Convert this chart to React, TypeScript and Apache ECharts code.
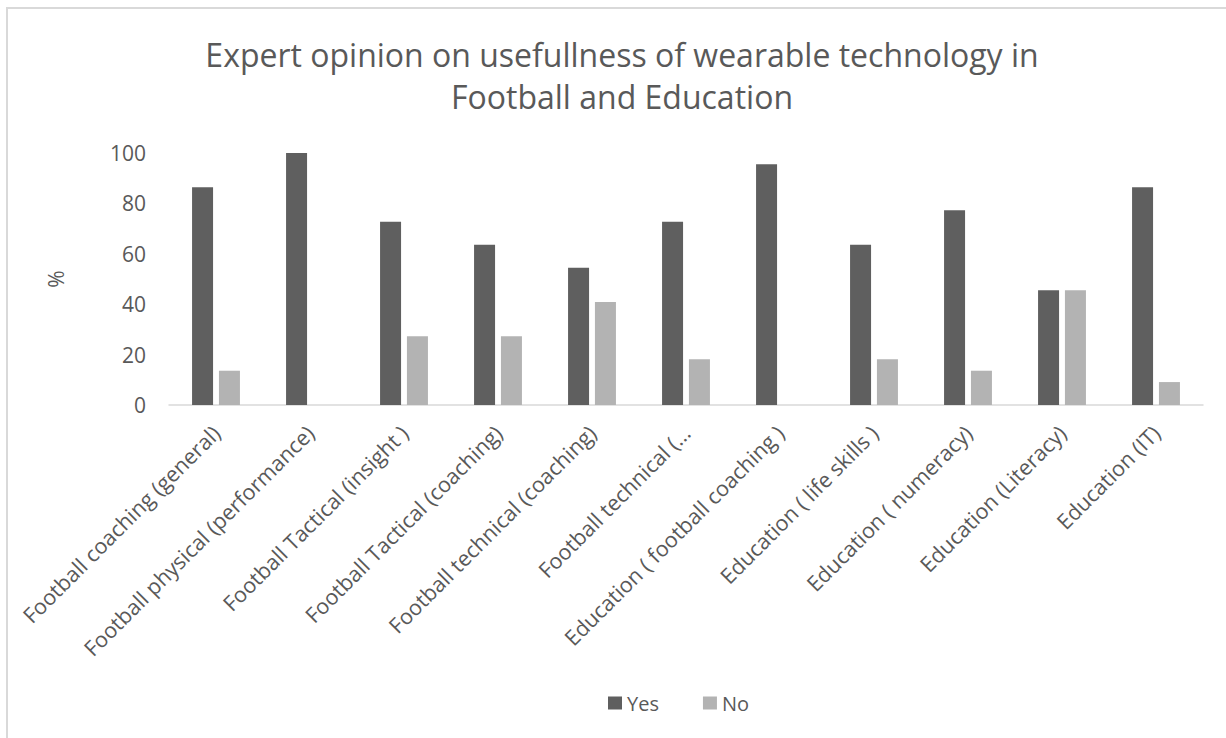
import React, { useEffect, useRef } from "react";
import * as echarts from "echarts";

const titleText = "Expert opinion on usefullness of wearable technology in\nFootball and Education";
const categories = [
  "Football coaching (general)",
  "Football physical (performance)",
  "Football Tactical (insight )",
  "Football Tactical (coaching)",
  "Football technical (coaching)",
  "Football technical (…",
  "Education ( football coaching )",
  "Education ( life skills )",
  "Education ( numeracy)",
  "Education (Literacy)",
  "Education (IT)",
];
const yesValues = [86.4, 100, 72.7, 63.6, 54.5, 72.7, 95.5, 63.6, 77.3, 45.5, 86.4];
const noValues = [13.6, 0, 27.3, 27.3, 40.9, 18.2, 0, 18.2, 13.6, 45.5, 9.1];
const yTicks = [0, 20, 40, 60, 80, 100];

const FONT = "'Open Sans', sans-serif";
const TXT = "#595959";

export default function App() {
  const ref = useRef<HTMLDivElement>(null);
  useEffect(() => {
    if (!ref.current) return;
    const chart = echarts.init(ref.current, null, { renderer: "svg" });
    chart.setOption({
      animation: false,
      backgroundColor: "#ffffff",
      title: {
        text: titleText,
        left: 617,
        top: 28,
        textAlign: "center",
        textStyle: { fontFamily: FONT, fontSize: 32, fontWeight: "normal", color: TXT, lineHeight: 42 },
      },
      legend: {
        data: ["Yes", "No"],
        left: 603,
        top: 688,
        itemWidth: 14,
        itemHeight: 13,
        itemGap: 44,
        icon: "rect",
        textStyle: { fontFamily: FONT, fontSize: 20, color: TXT },
      },
      grid: { left: 169, right: 23, top: 153, bottom: 333, containLabel: false },
      xAxis: {
        type: "category",
        data: categories,
        axisLine: { lineStyle: { color: "#d9d9d9", width: 1.5 } },
        axisTick: { show: false },
        axisLabel: {
          interval: 0,
          rotate: 45,
          margin: 24,
          fontFamily: FONT,
          fontSize: 21.5,
          color: TXT,
        },
      },
      yAxis: {
        type: "value",
        min: yTicks[0],
        max: yTicks[yTicks.length - 1],
        interval: 20,
        name: "%",
        nameLocation: "middle",
        nameGap: 103,
        nameRotate: 90,
        nameTextStyle: { fontFamily: FONT, fontSize: 21, color: TXT },
        axisLine: { show: false },
        axisTick: { show: false },
        splitLine: { show: false },
        axisLabel: { margin: 23, fontFamily: FONT, fontSize: 21, color: TXT },
      },
      series: [
        {
          name: "Yes",
          type: "bar",
          data: yesValues,
          barWidth: 21,
          barGap: "28%",
          itemStyle: { color: "#5f5f5f" },
        },
        {
          name: "No",
          type: "bar",
          data: noValues,
          barWidth: 21,
          itemStyle: { color: "#b3b3b3" },
        },
      ],
      graphic: [
        { type: "line", shape: { x1: 7, y1: 8, x2: 7, y2: 738 }, style: { stroke: "#d9d9d9", lineWidth: 2 } },
        { type: "line", shape: { x1: 6, y1: 8, x2: 1226, y2: 8 }, style: { stroke: "#d9d9d9", lineWidth: 2 } },
      ],
    });
    return () => chart.dispose();
  }, []);
  return (
    <div
      ref={ref}
      style={{ position: "fixed", left: 0, top: 0, width: 1226, height: 738 }}
    />
  );
}
